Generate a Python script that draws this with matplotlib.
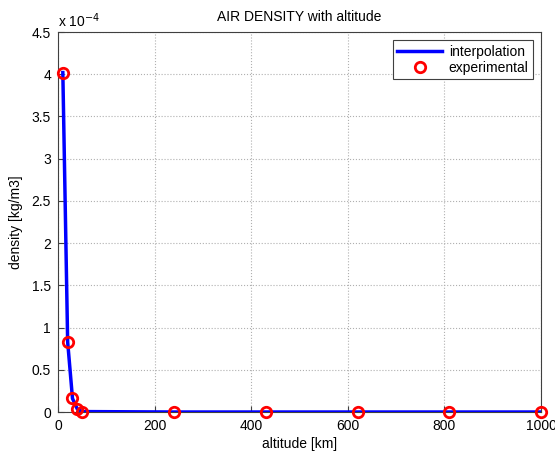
import numpy as np
import matplotlib
matplotlib.use("Agg")
import matplotlib.pyplot as plt
from matplotlib.ticker import FuncFormatter

plt.rcParams['font.family'] = ['Liberation Sans', 'DejaVu Sans']

# altitude [km] and measured density [kg/m3]
altitude = [10, 20, 30, 40, 50, 240, 430, 620, 810, 1000]
density = [4.02e-4, 0.83e-4, 0.16e-4, 0.035e-4, 0.005e-4,
           0.0, 0.0, 0.0, 0.0, 0.0]

xticks = [0, 200, 400, 600, 800, 1000]
yticks = [i * 0.5e-4 for i in range(10)]

fig = plt.figure(figsize=(5.55, 4.54), dpi=100)
ax = fig.add_axes([0.1045, 0.0925, 0.8705, 0.837])

ax.plot(altitude, density, color='#0000ff', linewidth=2.5, label='interpolation', zorder=3)
ax.plot(altitude, density, linestyle='none', marker='o', markersize=7.5,
        markerfacecolor='none', markeredgecolor='#ff0000', markeredgewidth=2,
        label='experimental', zorder=4, clip_on=False)

ax.set_xlim(0, 1000)
ax.set_ylim(0, 4.5e-4)
ax.set_xticks(xticks)
ax.set_yticks(yticks)
ax.yaxis.set_major_formatter(FuncFormatter(lambda v, p: f'{v * 1e4:g}'))
ax.tick_params(direction='in', length=4, labelsize=10, color='#404040', pad=5)
for s in ax.spines.values():
    s.set_color('#404040')
    s.set_linewidth(0.8)
ax.grid(True, linestyle=':', color='#b0b0b0', linewidth=0.8)
ax.set_axisbelow(True)

ax.text(0.0, 1.005, r'x 10$^{-4}$', transform=ax.transAxes, fontsize=10,
        ha='left', va='bottom')
ax.set_title('AIR DENSITY with altitude', fontsize=10, pad=8)
ax.set_xlabel('altitude [km]', fontsize=10, labelpad=3)
ax.set_ylabel('density [kg/m3]', fontsize=10, labelpad=6)

leg = ax.legend(loc='upper right', fontsize=10, fancybox=False, framealpha=1,
                edgecolor='#404040', borderaxespad=0.6, handlelength=3.2,
                handletextpad=0.5, borderpad=0.3, labelspacing=0.2)
leg.get_frame().set_linewidth(0.8)

fig.savefig('out.png', dpi=100)
plt.close(fig)
